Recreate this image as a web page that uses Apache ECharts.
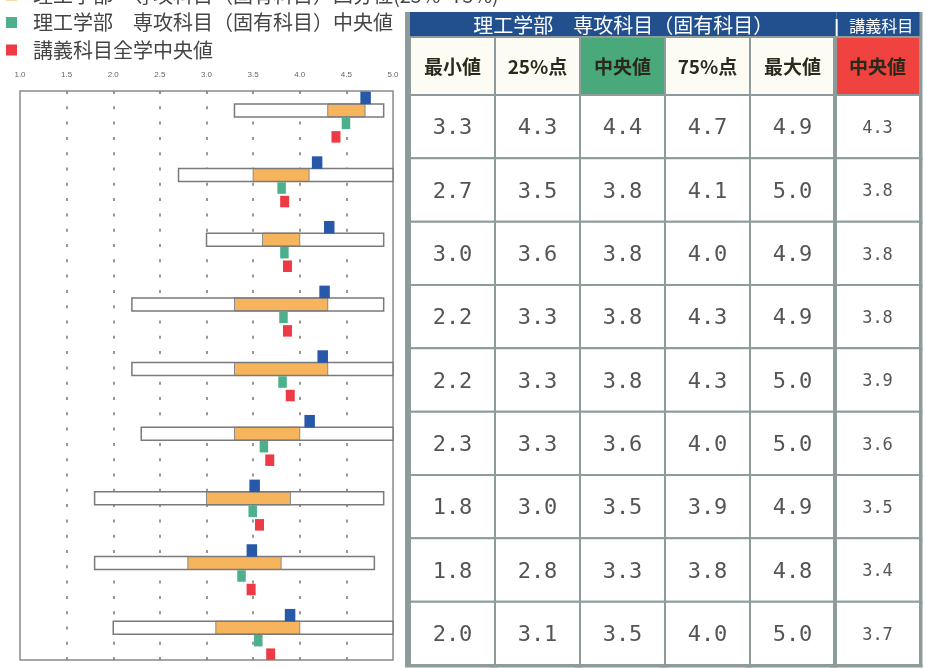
<!DOCTYPE html>
<html><head><meta charset="utf-8">
<script src="https://cdn.jsdelivr.net/npm/echarts@6/dist/echarts.min.js"></script>
<style>html,body{margin:0;padding:0;background:#fff}#c{width:925px;height:668px}</style>
</head><body><div id="c"></div>
<script>
// ---- data ----
const xTickLabels = ['1.0','1.5','2.0','2.5','3.0','3.5','4.0','4.5','5.0'];
const rowIds = ['1','2','3','4','5','6','7','8','9'];
const minVals = [3.3,2.7,3.0,2.2,2.2,2.3,1.8,1.8,2.0];
const q1Vals  = [4.3,3.5,3.6,3.3,3.3,3.3,3.0,2.8,3.1];
const medVals = [4.4,3.8,3.8,3.8,3.8,3.6,3.5,3.3,3.5];
const q3Vals  = [4.7,4.1,4.0,4.3,4.3,4.0,3.9,3.8,4.0];
const maxVals = [4.9,5.0,4.9,4.9,5.0,5.0,4.9,4.8,5.0];
const lectureMed = [4.3,3.8,3.8,3.8,3.9,3.6,3.5,3.4,3.7];
// marker positions
const blueMarks  = [4.65,4.13,4.26,4.21,4.19,4.05,3.46,3.43,3.84];
const greenMarks = [4.45,3.76,3.79,3.78,3.77,3.57,3.45,3.33,3.51];
const redMarks   = [4.34,3.79,3.82,3.82,3.85,3.63,3.52,3.43,3.64];
const legendNames = ['理工学部　専攻科目（固有科目）四分位(25%~75%)','理工学部　専攻科目（固有科目）中央値','講義科目全学中央値'];
const tableTitles = ['理工学部　専攻科目（固有科目）','講義科目'];
const tableTitleSpans = [[0,5],[5,6]];
const headers = ['最小値','25%点','中央値','75%点','最大値','中央値'];

// ---- styles ----
const CJK = '"Noto Sans CJK JP","Noto Sans",sans-serif';
const C_ORANGE='#f6b45c', C_GREEN='#4cb08a', C_RED='#ee3a44', C_BLUE='#2858a8';
const C_LINE='#8d9b9b';
const tableCols = [minVals,q1Vals,medVals,q3Vals,maxVals,lectureMed];

const chart = echarts.init(document.getElementById('c'));

const boxData = rowIds.map((r,i)=>[i,minVals[i],q1Vals[i],q3Vals[i],maxVals[i]]);
const cellData = [];
for (let c=0;c<6;c++) for (let r=0;r<rowIds.length;r++) cellData.push([c,r]);
const headData = headers.map((h,c)=>[c,0]);

chart.setOption({
  animation:false,
  backgroundColor:'#fff',
  legend:{
    orient:'vertical', left:6, top:-15, padding:0,
    itemWidth:11, itemHeight:11, itemGap:7.5, icon:'rect', selectedMode:false,
    textStyle:{fontSize:20, lineHeight:20, color:'#444', fontFamily:CJK, padding:[0,0,0,11]},
    data:[
      {name:legendNames[0], itemStyle:{color:C_ORANGE}},
      {name:legendNames[1], itemStyle:{color:C_GREEN}},
      {name:legendNames[2], itemStyle:{color:C_RED}}
    ]
  },
  grid:[
    {left:20, top:91, width:373, height:569, show:true, borderColor:'#8a8a8a', borderWidth:1.5, backgroundColor:'#fff', containLabel:false},
    {left:410, top:37, width:510, height:58},
    {left:410, top:12, width:512, height:25},
    {left:410, top:95, width:510, height:570}
  ],
  xAxis:[
    {gridIndex:0, type:'value', min:1, max:5, interval:0.5, position:'top',
     axisLine:{show:false}, axisTick:{show:false},
     axisLabel:{fontSize:8, color:'#666', margin:12, formatter:v=>xTickLabels[Math.round((v-1)/0.5)]},
     splitLine:{show:true, showMinLine:false, showMaxLine:false, lineStyle:{type:[3,12.3], color:'#77776a', width:1.5}}},
    {gridIndex:1, type:'category', data:headers, show:false},
    {gridIndex:2, type:'value', min:0, max:6, show:false},
    {gridIndex:3, type:'category', data:headers, show:false}
  ],
  yAxis:[
    {gridIndex:0, type:'value', min:-0.3, max:8.5, inverse:true, show:false},
    {gridIndex:1, type:'category', data:['h'], show:false},
    {gridIndex:2, type:'value', min:0, max:1, show:false},
    {gridIndex:3, type:'category', data:rowIds, inverse:true, show:false}
  ],
  series:[
    {
      name:legendNames[0], type:'custom', xAxisIndex:0, yAxisIndex:0,
      itemStyle:{color:C_ORANGE},
      encode:{x:[1,2,3,4], y:0},
      data:boxData,
      renderItem:function(params, api){
        const i=api.value(0);
        const p1=api.coord([api.value(1),i]), p2=api.coord([api.value(4),i]);
        const q1=api.coord([api.value(2),i]), q2=api.coord([api.value(3),i]);
        const h=13;
        return {type:'group', children:[
          {type:'rect', shape:{x:p1[0], y:p1[1]-h/2, width:p2[0]-p1[0], height:h}, style:{fill:'#fff', stroke:null}},
          {type:'rect', shape:{x:q1[0], y:q1[1]-h/2, width:q2[0]-q1[0], height:h}, style:{fill:C_ORANGE, stroke:'#8a8a8a', lineWidth:1}},
          {type:'rect', shape:{x:p1[0], y:p1[1]-h/2, width:p2[0]-p1[0], height:h}, style:{fill:null, stroke:'#7a7a7a', lineWidth:1.5}}
        ]};
      }
    },
    {
      name:'blue', type:'scatter', xAxisIndex:0, yAxisIndex:0, symbol:'rect',
      symbolSize:[10.5,12.5], symbolOffset:[5.25,-12.5], itemStyle:{color:C_BLUE, opacity:1}, z:5,
      data:blueMarks.map((v,i)=>[v,i])
    },
    {
      name:legendNames[1], type:'scatter', xAxisIndex:0, yAxisIndex:0, symbol:'rect',
      symbolSize:[8.5,11.5], symbolOffset:[4.25,13], itemStyle:{color:C_GREEN, opacity:1}, z:5,
      data:greenMarks.map((v,i)=>[v,i])
    },
    {
      name:legendNames[2], type:'scatter', xAxisIndex:0, yAxisIndex:0, symbol:'rect',
      symbolSize:[9,11.5], symbolOffset:[4.5,26.5], itemStyle:{color:C_RED, opacity:1}, z:5,
      data:redMarks.map((v,i)=>[v,i])
    },
    {
      name:'title', type:'custom', xAxisIndex:2, yAxisIndex:2,
      data:tableTitleSpans.map((s,k)=>[s[0],s[1],k]),
      encode:{x:[0,1]},
      renderItem:function(params, api){
        const s=api.value(0), e=api.value(1), k=api.value(2);
        const a=api.coord([s,1]), b=api.coord([e,0]);
        const children=[
          {type:'rect', shape:{x:a[0], y:a[1], width:b[0]-a[0], height:b[1]-a[1]}, style:{fill:'#22508f'}},
          {type:'text', style:{text:tableTitles[k], x:(a[0]+b[0])/2 + (k===0?0:2), y:(a[1]+b[1])/2+1, align:'center', verticalAlign:'middle', fill:'#fff', fontSize:k===0?20:16, fontFamily:CJK}}
        ];
        if (k===1) children.push({type:'line', shape:{x1:a[0], y1:a[1]+7, x2:a[0], y2:b[1]}, style:{stroke:'#fff', lineWidth:2}});
        return {type:'group', children};
      }
    },
    {
      name:'header', type:'custom', xAxisIndex:1, yAxisIndex:1,
      data:headData,
      renderItem:function(params, api){
        const c=api.value(0);
        const p=api.coord([c,0]); const sz=api.size([1,1]);
        const x=p[0]-sz[0]/2, y=p[1]-sz[1]/2;
        const bg = c===2 ? '#4aa97b' : (c===5 ? '#f0423e' : '#fcfcf4');
        const children=[
          {type:'rect', shape:{x:x, y:y, width:sz[0], height:sz[1]}, style:{fill:bg, stroke:C_LINE, lineWidth:2}},
          {type:'text', style:{text:headers[c], x:p[0], y:p[1]+1, align:'center', verticalAlign:'middle', fill:'#2a2a1c', fontSize:19, fontWeight:'bold', fontFamily:CJK}}
        ];
        if (c===0) children.push({type:'line', shape:{x1:x-2.5, y1:y-25, x2:x-2.5, y2:y+sz[1]}, style:{stroke:C_LINE, lineWidth:5}});
        if (c===5) children.push({type:'line', shape:{x1:x, y1:y, x2:x, y2:y+sz[1]}, style:{stroke:C_LINE, lineWidth:4}});
        if (c===5) children.push({type:'line', shape:{x1:x+sz[0]+1, y1:y-25, x2:x+sz[0]+1, y2:y+sz[1]}, style:{stroke:C_LINE, lineWidth:3}});
        return {type:'group', children};
      }
    },
    {
      name:'cells', type:'custom', xAxisIndex:3, yAxisIndex:3,
      data:cellData,
      renderItem:function(params, api){
        const c=api.value(0), r=api.value(1);
        const p=api.coord([c,r]); const sz=api.size([1,1]);
        const x=p[0]-sz[0]/2, y=p[1]-sz[1]/2;
        const children=[
          {type:'rect', shape:{x:x, y:y, width:sz[0], height:sz[1]}, style:{fill:'#fff', stroke:C_LINE, lineWidth:2}},
          {type:'text', style:{text:tableCols[c][r].toFixed(1), x:p[0], y:p[1]+2, align:'center', verticalAlign:'middle', fill:'#555', fontSize:c===5?17:22, fontFamily:'"DejaVu Sans Mono",monospace'}}
        ];
        if (c===0) children.push({type:'line', shape:{x1:x-2.5, y1:y, x2:x-2.5, y2:y+sz[1]+2}, style:{stroke:C_LINE, lineWidth:5}});
        if (c===5) children.push({type:'line', shape:{x1:x, y1:y, x2:x, y2:y+sz[1]}, style:{stroke:C_LINE, lineWidth:4}});
        if (c===5) children.push({type:'line', shape:{x1:x+sz[0]+1, y1:y, x2:x+sz[0]+1, y2:y+sz[1]+2}, style:{stroke:C_LINE, lineWidth:3}});
        if (r===rowIds.length-1) children.push({type:'line', shape:{x1:x-5, y1:y+sz[1]+1, x2:x+sz[0]+2.5, y2:y+sz[1]+1}, style:{stroke:C_LINE, lineWidth:3}});
        return {type:'group', children};
      }
    }
  ]
});
</script>
</body></html>
